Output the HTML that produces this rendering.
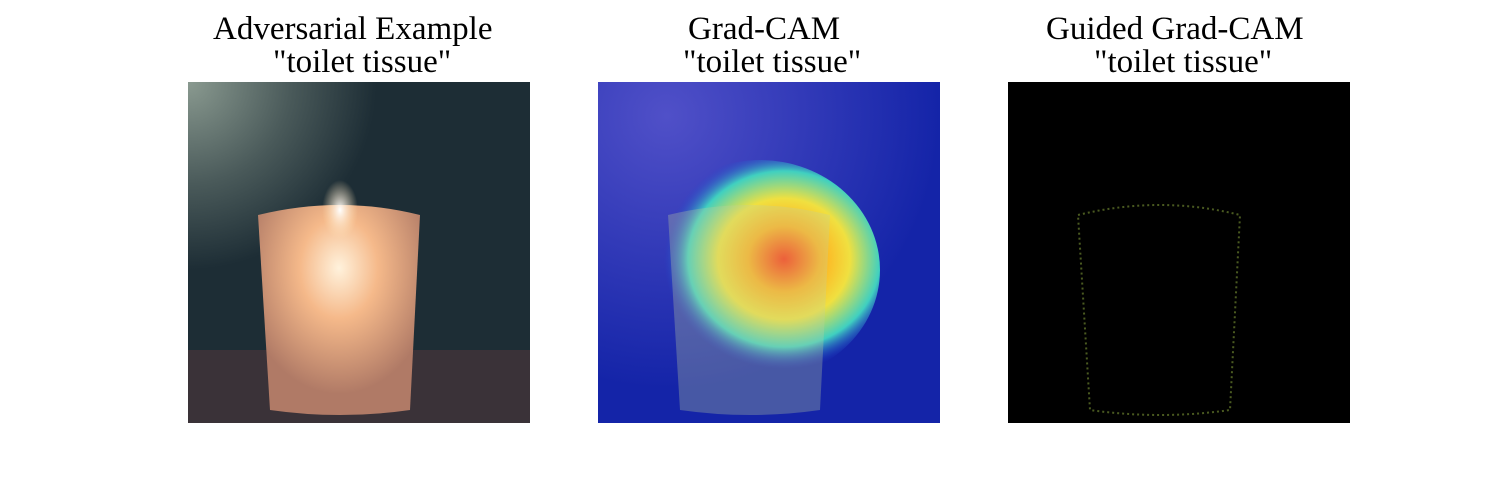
<!DOCTYPE html>
<html><head><meta charset="utf-8"><style>
body{margin:0;background:#fff;}
#wrap{position:relative;width:1500px;height:500px;overflow:hidden;font-family:"Liberation Serif",serif;}
.t{position:absolute;font-size:33px;color:#000;line-height:33px;white-space:pre;}
svg{position:absolute;top:0;left:0;}
</style></head><body>
<div id="wrap">
<div class="t" style="left:213px;top:13px">Adversarial Example</div>
<div class="t" style="left:273px;top:46px">"toilet tissue"</div>
<div class="t" style="left:688px;top:13px">Grad-CAM</div>
<div class="t" style="left:683px;top:46px">"toilet tissue"</div>
<div class="t" style="left:1046px;top:13px">Guided Grad-CAM</div>
<div class="t" style="left:1094px;top:46px">"toilet tissue"</div>
<svg width="1500" height="500">
<defs>
<radialGradient id="g1" cx="0.5" cy="0.3" r="0.6"><stop offset="0" stop-color="#fff2dc"/><stop offset="0.4" stop-color="#f5b98a"/><stop offset="1" stop-color="#b07a66"/></radialGradient>
<radialGradient id="tl" cx="0" cy="0" r="1"><stop offset="0" stop-color="#8a9a90"/><stop offset="0.3" stop-color="#4a5a5a"/><stop offset="0.55" stop-color="#1d2d35"/><stop offset="1" stop-color="#1d2d35"/></radialGradient>
<radialGradient id="heat" cx="0.6" cy="0.45" r="0.5"><stop offset="0" stop-color="#ff3010"/><stop offset="0.3" stop-color="#ffb020"/><stop offset="0.55" stop-color="#f0e040"/><stop offset="0.8" stop-color="#40d0c0"/><stop offset="1" stop-color="#2040d0" stop-opacity="0"/></radialGradient>
<radialGradient id="bl" cx="0.2" cy="0.1" r="0.8"><stop offset="0" stop-color="#5050c8"/><stop offset="1" stop-color="#1424a8"/></radialGradient>
<radialGradient id="flame" cx="0.5" cy="0.5" r="0.5"><stop offset="0" stop-color="#fff"/><stop offset="1" stop-color="#ffe0b0" stop-opacity="0"/></radialGradient>
</defs>
<g>
<rect x="188" y="82" width="342" height="341" fill="url(#tl)"/>
<rect x="188" y="350" width="342" height="73" fill="#3a3238"/>
<path d="M258 215 Q340 195 420 215 L410 410 Q340 420 270 410 Z" fill="url(#g1)"/>
<ellipse cx="340" cy="210" rx="18" ry="30" fill="url(#flame)"/>
</g>
<g>
<rect x="598" y="82" width="342" height="341" fill="url(#bl)"/>
<ellipse cx="760" cy="270" rx="120" ry="110" fill="url(#heat)"/>
<path d="M668 215 Q750 195 830 215 L820 410 Q750 420 680 410 Z" fill="#c0d0a0" opacity="0.3"/>
</g>
<g>
<rect x="1008" y="82" width="342" height="341" fill="#000"/>
<path d="M1078 215 Q1160 195 1240 215 L1230 410 Q1160 420 1090 410 Z" fill="none" stroke="#4a5a20" stroke-width="2" stroke-dasharray="2 3"/>
</g>
</svg>
</div>
</body></html>
